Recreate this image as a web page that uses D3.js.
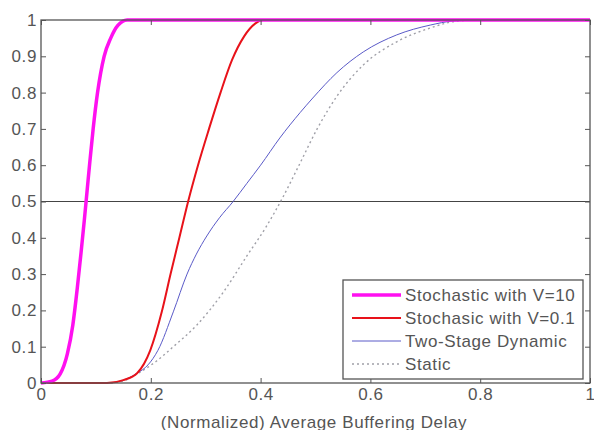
<!DOCTYPE html>
<html>
<head>
<meta charset="utf-8">
<script src="https://cdn.jsdelivr.net/npm/d3@7"></script>
<style>
	body{margin:0;background:#fff;}
	svg text{font-family:Arial,"Liberation Sans",sans-serif;letter-spacing:0.6px;}
</style>
</head>
<body>
<svg id="chart" width="594" height="430"></svg>
<script>
// values
var xTicks=[0,0.2,0.4,0.6,0.8,1];
var yTicks=[0,0.1,0.2,0.3,0.4,0.5,0.6,0.7,0.8,0.9,1];

var v10X=[0,0.02,0.035,0.048,0.058,0.066,0.073,0.079,0.084,0.089,0.095,0.103,0.115,0.127,0.14,0.157,1];
var v10Y=[0,0.005,0.025,0.08,0.16,0.26,0.36,0.45,0.53,0.61,0.7,0.8,0.9,0.95,0.985,1,1];

var v01X=[0,0.12,0.15,0.175,0.199,0.22,0.236,0.252,0.268,0.286,0.306,0.327,0.348,0.37,0.39,0.405,1];
var v01Y=[0,0,0.008,0.027,0.09,0.196,0.3,0.4,0.5,0.6,0.7,0.8,0.89,0.955,0.99,1,1];

var twoStageX=[0,0.12,0.15,0.175,0.195,0.213,0.241,0.266,0.283,0.302,0.325,0.35,0.375,0.4,0.435,0.472,0.495,0.539,0.587,0.648,0.709,0.75,0.8,1];
var twoStageY=[0,0,0.008,0.027,0.05,0.09,0.196,0.3,0.355,0.405,0.455,0.5,0.55,0.6,0.675,0.745,0.785,0.855,0.912,0.959,0.986,0.997,1,1];

var staticX=[0,0.12,0.15,0.175,0.21,0.241,0.284,0.332,0.375,0.41,0.44,0.47,0.503,0.539,0.587,0.648,0.709,0.758,0.8,1];
var staticY=[0,0,0.006,0.025,0.06,0.1,0.16,0.25,0.35,0.43,0.51,0.6,0.7,0.79,0.876,0.94,0.978,0.997,1,1];

var seriesNames=["Stochastic with V=10","Stochasic with V=0.1","Two-Stage Dynamic","Static"];
var refLine=0.5;

var svg=d3.select("#chart");
var plotLeft=41,plotRight=590,plotTop=20,plotBottom=383;
var x=d3.scaleLinear().domain([0,1]).range([plotLeft,plotRight]);
var y=d3.scaleLinear().domain([0,1]).range([plotBottom,plotTop]);
var axisColor="#555";
var textColor="#555";

function zip(xs,ys){
	return xs.map(function(d,i){return [d,ys[i]];});
}

var styles=[
	{color:"#ff10f0",width:3.5,dash:null},
	{color:"#e8121a",width:2,dash:null},
	{color:"#5a5ac8",width:1,dash:null},
	{color:"#a0a0a8",width:1.4,dash:"2,3"}
];
var series=[zip(v10X,v10Y),zip(v01X,v01Y),zip(twoStageX,twoStageY),zip(staticX,staticY)];

var line=d3.line()
	.x(function(d){return x(d[0]);})
	.y(function(d){return y(d[1]);})
	.curve(d3.curveMonotoneX);

//reference line at 0.5
svg.append("line")
	.attr("x1",x(0)).attr("x2",x(1))
	.attr("y1",y(refLine)).attr("y2",y(refLine))
	.attr("stroke","#444").attr("stroke-width",1.2);

//curves, drawn back to front
[3,2,1,0].forEach(function(i){
	svg.append("path")
		.datum(series[i])
		.attr("d",line)
		.attr("fill","none")
		.attr("stroke",styles[i].color)
		.attr("stroke-width",styles[i].width)
		.attr("stroke-dasharray",styles[i].dash)
		.attr("stroke-linejoin","round");
});

//axes with inward ticks, matlab style
function styleAxis(g){
	g.select(".domain").remove();
	g.selectAll(".tick line").attr("stroke",axisColor);
	g.selectAll(".tick text").attr("fill",textColor).style("font-size","17px");
}
svg.append("g").attr("transform","translate(0,"+plotBottom+")")
	.call(d3.axisBottom(x).tickValues(xTicks).tickFormat(d3.format("")).tickSizeInner(-5).tickSizeOuter(0).tickPadding(5))
	.call(styleAxis);
svg.append("g").attr("transform","translate(0,"+plotTop+")")
	.call(d3.axisTop(x).tickValues(xTicks).tickFormat("").tickSizeInner(-5).tickSizeOuter(0))
	.call(styleAxis);
svg.append("g").attr("transform","translate("+plotLeft+",0)")
	.call(d3.axisLeft(y).tickValues(yTicks).tickFormat(d3.format("")).tickSizeInner(-5).tickSizeOuter(0).tickPadding(4))
	.call(styleAxis);
svg.append("g").attr("transform","translate("+plotRight+",0)")
	.call(d3.axisRight(y).tickValues(yTicks).tickFormat("").tickSizeInner(-5).tickSizeOuter(0))
	.call(styleAxis);

svg.append("rect")
	.attr("x",plotLeft).attr("y",plotTop)
	.attr("width",plotRight-plotLeft).attr("height",plotBottom-plotTop)
	.attr("fill","none").attr("stroke",axisColor).attr("stroke-width",1.3);

svg.append("text")
	.attr("x",314).attr("y",428)
	.attr("text-anchor","middle")
	.attr("fill",textColor)
	.style("font-size","17px")
	.text("(Normalized) Average Buffering Delay");

//legend
var legend=svg.append("g");
legend.append("rect")
	.attr("x",343).attr("y",280).attr("width",240).attr("height",99)
	.attr("fill","#fff").attr("stroke",axisColor).attr("stroke-width",1.3);
seriesNames.forEach(function(name,i){
	var ly=295+i*23;
	legend.append("line")
		.attr("x1",352).attr("x2",401).attr("y1",ly).attr("y2",ly)
		.attr("stroke",styles[i].color)
		.attr("stroke-width",styles[i].width)
		.attr("stroke-dasharray",styles[i].dash);
	legend.append("text")
		.attr("x",405).attr("y",ly).attr("dy","0.36em")
		.attr("fill",textColor)
		.style("font-size","17px")
		.text(name);
});
</script>
</body>
</html>
